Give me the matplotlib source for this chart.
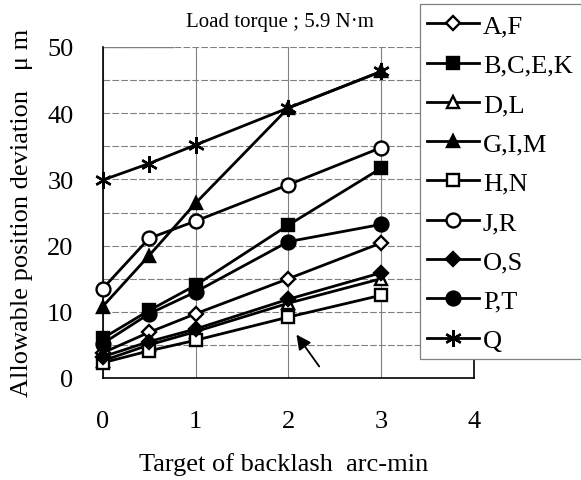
import matplotlib.pyplot as plt
from matplotlib.patches import Rectangle
from matplotlib.ticker import MultipleLocator

plt.rcParams['font.family'] = ['Liberation Serif', 'DejaVu Serif']

# backlash target (arc-min)
x = [0, 0.5, 1, 2, 3]

labels = ['A,F', 'B,C,E,K', 'D,L', 'G,I,M', 'H,N', 'J,R', 'O,S', 'P,T', 'Q']
af = [3.8, 6.9, 9.7, 15.0, 20.4]
bcek = [6.0, 10.2, 14.0, 23.1, 31.7]
dl = [2.6, 5.0, 7.0, 11.3, 15.0]
gim = [10.8, 18.5, 26.4, 40.8, 46.3]
hn = [2.3, 4.1, 5.7, 9.2, 12.5]
jr = [13.5, 21.1, 23.7, 29.2, 34.8]
os_ = [3.2, 5.5, 7.4, 11.9, 15.9]
pt = [5.2, 9.7, 13.0, 20.6, 23.2]
q = [29.9, 32.4, 35.2, 40.8, 46.3]

series = [af, bcek, dl, gim, hn, jr, os_, pt, q]
markers = ['D', 's', '^', '^', 's', 'o', 'D', 'o', (6, 2, 0)]
filled = [False, True, False, True, False, False, True, True, True]
msizes = [7, 9, 9, 9, 9, 10, 7, 10, 12]

W, H = 581, 481
fig = plt.figure(figsize=(W / 100, H / 100), dpi=100)
ax = fig.add_axes([102.7 / W, 1 - 379 / H, (474 - 102.7) / W, (379 - 48) / H])

handles = []
for ys, m, f, ms, lab in zip(series, markers, filled, msizes, labels):
    h, = ax.plot(x, ys, color='black', lw=2, marker=m, markersize=ms,
                 markerfacecolor='black' if f else 'white',
                 markeredgecolor='black', markeredgewidth=1.7, label=lab,
                 clip_on=False, zorder=3)
    handles.append(h)

ax.set_xlim(0, 4)
ax.set_ylim(0, 50)
ax.set_xticks([0, 1, 2, 3, 4])
ax.set_yticks([0, 10, 20, 30, 40, 50])
ax.yaxis.set_minor_locator(MultipleLocator(5))
ax.tick_params(axis='both', which='both', length=0, labelsize=19)
ax.tick_params(axis='y', pad=21)
ax.tick_params(axis='x', pad=23)

ax.grid(axis='y', which='both', color='gray', lw=0.8, linestyle=(0, (6, 2)))
ax.grid(axis='x', which='major', color='gray', lw=0.8)
ax.set_axisbelow(True)
ax.spines['top'].set_visible(False)
for s in ['left', 'bottom', 'right']:
    ax.spines[s].set_linewidth(1.2)
ax.axhline(50, xmax=0.19, color='gray', lw=1)

ax.annotate('', xy=(2.07, 6.9), xytext=(2.35, 1.4),
            arrowprops=dict(arrowstyle='-|>', lw=1.3, color='black', mutation_scale=22))

fig.text(280 / W, 1 - 22 / H, 'Load torque ; 5.9 N\u00b7m', fontsize=15,
         ha='center', va='center')
fig.text(22 / W, 1 - 213 / H, 'Allowable position deviation   \u03bc m', fontsize=19,
         rotation=90, ha='center', va='center')
fig.text(284 / W, 1 - 465 / H, 'Target of backlash  arc-min', fontsize=19,
         ha='center', va='center')

# legend box covering the right part of the plot
box = Rectangle((420 / W, 1 - 360 / H), 0.5, (360 - 5) / H, transform=fig.transFigure,
                facecolor='white', edgecolor='gray', lw=0.9, zorder=2)
fig.add_artist(box)

fig.legend(handles=handles, loc='upper left', bbox_to_anchor=(427 / W, 1 - 15 / H),
           frameon=False, fontsize=19, borderpad=0, borderaxespad=0,
           labelspacing=0.6, handlelength=1.97, handletextpad=0.15)

fig.savefig('out.png', dpi=100)
